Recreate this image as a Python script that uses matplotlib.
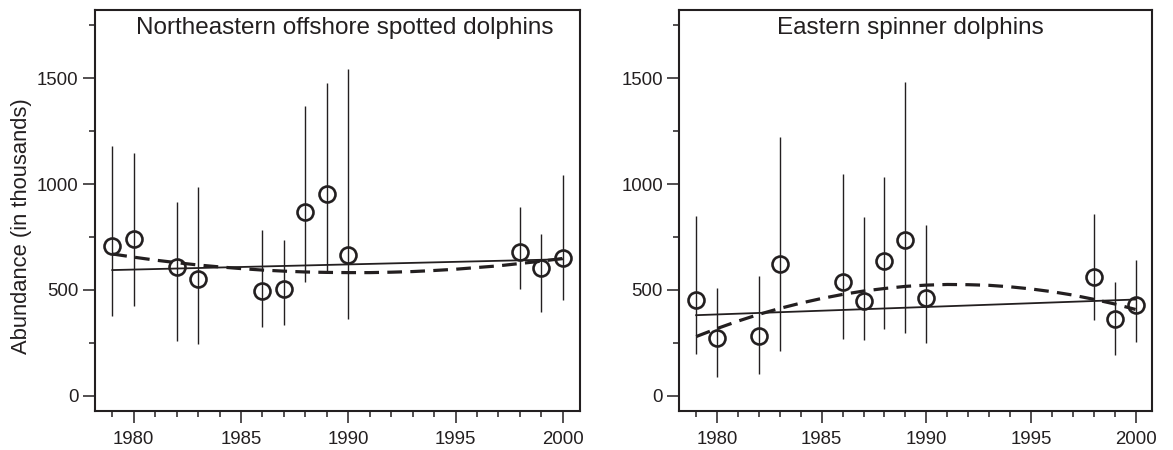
import matplotlib
matplotlib.use("Agg")
import matplotlib.pyplot as plt
from matplotlib.ticker import MultipleLocator

plt.rcParams['font.family'] = ['Liberation Sans', 'DejaVu Sans']

# ---------------- data ----------------
years = [1979, 1980, 1982, 1983, 1986, 1987, 1988, 1989, 1990, 1998, 1999, 2000]

spotted_est = [709, 742, 607, 550, 495, 503, 868, 955, 666, 677, 602, 649]
spotted_hi = [1180, 1147, 914, 986, 785, 734, 1368, 1478, 1544, 892, 766, 1043]
spotted_lo = [377, 424, 258, 247, 325, 334, 537, 586, 364, 506, 397, 455]

spinner_est = [451, 273, 284, 621, 537, 446, 637, 736, 463, 559, 362, 430]
spinner_hi = [848, 509, 566, 1223, 1048, 845, 1034, 1484, 807, 859, 537, 643]
spinner_lo = [197, 88, 104, 214, 268, 263, 317, 295, 251, 358, 194, 254]

# fitted trend lines
trend_years = [1979, 2000]
spotted_linear = [594, 645]
spinner_linear = [381, 455]

curve_years = list(range(1979, 2001))
spotted_quad = [670, 655, 641, 629, 618, 609, 601, 594, 589, 585, 583,
                582, 582, 584, 587, 592, 598, 606, 614, 625, 636, 649]
spinner_quad = [280, 318, 353, 385, 413, 438, 460, 479, 495, 507, 517,
                523, 526, 525, 522, 515, 505, 492, 476, 456, 434, 408]

titles = ["Northeastern offshore spotted dolphins", "Eastern spinner dolphins"]
ylabel = "Abundance (in thousands)"
xticks = [1980, 1985, 1990, 1995, 2000]
yticks = [0, 500, 1000, 1500]

# ---------------- plot ----------------
W, H = 1173, 450
fig = plt.figure(figsize=(W / 100, H / 100), dpi=100)
ink = '#231f20'

axes_px = [(94.7, 580.0), (679.0, 1152.3)]
top_px, bot_px = 10.0, 410.7
title_x = [0.516, 0.489]

panels = [
    (spotted_est, spotted_lo, spotted_hi, spotted_linear, spotted_quad),
    (spinner_est, spinner_lo, spinner_hi, spinner_linear, spinner_quad),
]

for i, (est, lo, hi, lin, quad) in enumerate(panels):
    l, r = axes_px[i]
    ax = fig.add_axes([l / W, 1 - bot_px / H, (r - l) / W, (bot_px - top_px) / H])
    ax.vlines(years, lo, hi, color=ink, linewidth=1.0, zorder=2)
    ax.plot(trend_years, lin, color=ink, linewidth=1.3, zorder=3)
    ax.plot(curve_years, quad, color=ink, linewidth=2.3,
            linestyle=(0, (4.6, 2.6)), zorder=3)
    ax.plot(years, est, linestyle='none', marker='o', markersize=11.5,
            markerfacecolor='none', markeredgecolor=ink, markeredgewidth=1.9,
            zorder=4)

    ax.set_xlim(1978.18, 2000.8)
    ax.set_ylim(-70, 1822)
    ax.set_xticks(xticks)
    ax.xaxis.set_minor_locator(MultipleLocator(1))
    ax.set_yticks(yticks)
    ax.yaxis.set_minor_locator(MultipleLocator(250))
    ax.tick_params(axis='both', which='major', direction='out', length=8.6,
                   width=1.1, color=ink, labelcolor=ink, labelsize=13.4)
    ax.tick_params(axis='both', which='minor', direction='out', length=4.3,
                   width=1.1, color=ink)
    ax.tick_params(axis='x', which='major', pad=6)
    ax.tick_params(axis='y', which='major', pad=3)
    for s in ax.spines.values():
        s.set_linewidth(1.5)
        s.set_color(ink)
    ax.text(title_x[i], 0.939, titles[i], transform=ax.transAxes,
            ha='center', va='baseline', fontsize=17.5, color=ink)

fig.text(21.7 / W, 1 - 225.8 / H, ylabel, rotation=90, ha='center',
         va='center', fontsize=15.8, color=ink)

fig.savefig('out.png', dpi=100)
